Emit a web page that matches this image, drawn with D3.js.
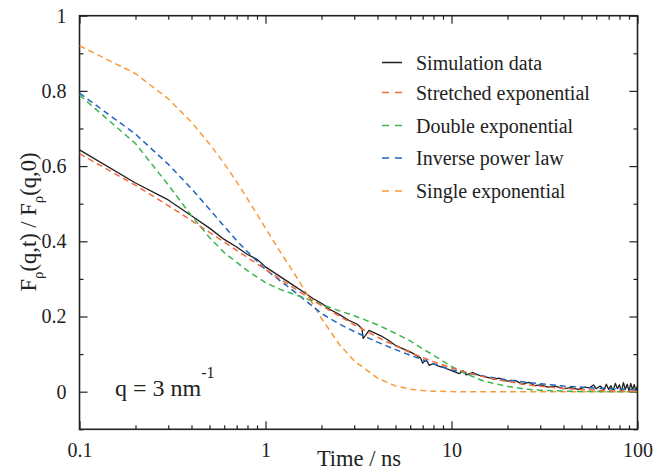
<!DOCTYPE html>
<html><head><meta charset="utf-8">
<script src="https://cdn.jsdelivr.net/npm/d3@7"></script>
<style>
body{margin:0;background:#fff;}
svg{display:block;}
svg text{font-family:"Liberation Serif","Times New Roman",Times,"Nimbus Roman","Nimbus Roman No9 L","FreeSerif","Noto Serif","DejaVu Serif",serif;fill:#222;}
</style></head>
<body>
<svg id="c" width="654" height="471"></svg>
<script>
// ---- data ----
const tFit = [0.1,0.2,0.3,0.4,0.5,0.6,0.7,0.8,1,1.2,1.5,2,2.5,3,4,5,6,7,8,10,12,15,20,25,30,40,50,70,100];
const stretched = [0.633,0.549,0.495,0.455,0.424,0.398,0.376,0.357,0.325,0.299,0.268,0.229,0.201,0.178,0.145,0.122,0.104,0.091,0.080,0.063,0.052,0.039,0.027,0.019,0.0145,0.0088,0.0057,0.0028,0.0011];
const doubleExp = [0.789,0.66,0.55,0.468,0.41,0.37,0.344,0.322,0.29,0.272,0.255,0.232,0.215,0.202,0.178,0.155,0.135,0.114,0.097,0.067,0.047,0.028,0.014,0.007,0.004,0.0015,0.0005,0,0];
const powerLaw = [0.794,0.685,0.605,0.54,0.485,0.44,0.402,0.372,0.325,0.295,0.258,0.208,0.18,0.16,0.132,0.112,0.097,0.085,0.074,0.058,0.050,0.041,0.031,0.025,0.021,0.015,0.012,0.008,0.005];
const singleExp = [0.92,0.846,0.779,0.717,0.659,0.607,0.558,0.513,0.435,0.372,0.298,0.195,0.125,0.082,0.036,0.0155,0.0067,0.0029,0.0013,0.0002,0,0,0,0,0,0,0,0,0];

const tSim = [0.1,0.2,0.3,0.4,0.5,0.6,0.7,0.8,0.9,1.0,1.2,1.4,1.6,1.8,2.0,2.2,2.5,2.8,3.1,3.3,3.35,3.45,3.6,3.8,4.2,4.6,5.0,5.5,6.0,6.5,6.8,7.0,7.3,7.6,8.0,8.5,9.0,10,11,11.5,12,13,14,15,16,17,18,20,22,24,26,28,30,33,36,40,44,48,52,55,58,60,63,66,68,70,72,74,76,78,80,82,84,86,88,90,92,94,96,98,100];
const simulation = [0.643,0.555,0.51,0.468,0.435,0.405,0.385,0.365,0.352,0.332,0.306,0.284,0.265,0.248,0.235,0.22,0.205,0.19,0.18,0.168,0.142,0.15,0.163,0.158,0.148,0.136,0.123,0.114,0.106,0.096,0.09,0.076,0.085,0.07,0.075,0.068,0.065,0.056,0.048,0.056,0.045,0.051,0.044,0.040,0.037,0.033,0.036,0.028,0.030,0.020,0.025,0.016,0.018,0.012,0.015,0.008,0.011,0.006,0.012,0.010,0.018,0.008,0.015,0.005,0.020,0.006,0.016,0.003,0.022,0.008,0.018,0.000,0.024,0.006,0.020,0.002,0.022,0.005,0.019,0.003,0.015];

const seriesNames = ["Simulation data","Stretched exponential","Double exponential","Inverse power law","Single exponential"];
const seriesColors = ["#1e1e1e","#f26a3c","#3db552","#1f64c0","#f99a3a"];

const xTicksMajor = [0.1,1,10,100];
const xTickLabels = ["0.1","1","10","100"];
const yTicksMajor = [0,0.2,0.4,0.6,0.8,1];
const yTickLabels = ["0","0.2","0.4","0.6","0.8","1"];

// ---- layout ----
const L=79.5, R=637.5, T=15.7, B=429.3;
const svg = d3.select("#c");
const x = d3.scaleLog().domain([0.1,100]).range([L,R]);
const y = d3.scaleLinear().domain([-0.1,1]).range([B,T]);

const xMinor = [];
[0.1,1,10].forEach(d=>{for(let k=2;k<=9;k++) xMinor.push(d*k);});
const yMinor = [-0.1,0.1,0.3,0.5,0.7,0.9];

svg.append("clipPath").attr("id","clip").append("rect")
  .attr("x",L).attr("y",T).attr("width",R-L).attr("height",B-T);

function styleAxis(g){
  g.attr("font-family",null);
  g.select(".domain").remove();
  g.selectAll("line").attr("stroke","#222").attr("stroke-width",1.2);
}
svg.append("g").attr("transform",`translate(0,${B})`)
  .call(d3.axisBottom(x).tickValues(xTicksMajor).tickSize(-8).tickPadding(14)
    .tickFormat((d,i)=>xTickLabels[i]))
  .call(styleAxis)
  .call(g=>g.selectAll("text").attr("font-size",20).attr("fill","#222"));
svg.append("g").attr("transform",`translate(0,${B})`)
  .call(d3.axisBottom(x).tickValues(xMinor).tickSize(-4).tickFormat(""))
  .call(styleAxis);
svg.append("g").attr("transform",`translate(0,${T})`)
  .call(d3.axisTop(x).tickValues(xTicksMajor).tickSize(-8).tickFormat(""))
  .call(styleAxis);
svg.append("g").attr("transform",`translate(0,${T})`)
  .call(d3.axisTop(x).tickValues(xMinor).tickSize(-4).tickFormat(""))
  .call(styleAxis);
svg.append("g").attr("transform",`translate(${L},0)`)
  .call(d3.axisLeft(y).tickValues(yTicksMajor).tickSize(-8).tickPadding(13)
    .tickFormat((d,i)=>yTickLabels[i]))
  .call(styleAxis)
  .call(g=>g.selectAll("text").attr("font-size",20).attr("fill","#222"));
svg.append("g").attr("transform",`translate(${L},0)`)
  .call(d3.axisLeft(y).tickValues(yMinor).tickSize(-4).tickFormat(""))
  .call(styleAxis);
svg.append("g").attr("transform",`translate(${R},0)`)
  .call(d3.axisRight(y).tickValues(yTicksMajor).tickSize(-8).tickFormat(""))
  .call(styleAxis);
svg.append("g").attr("transform",`translate(${R},0)`)
  .call(d3.axisRight(y).tickValues(yMinor).tickSize(-4).tickFormat(""))
  .call(styleAxis);

svg.append("rect").attr("x",L).attr("y",T).attr("width",R-L).attr("height",B-T)
  .attr("fill","none").attr("stroke","#222").attr("stroke-width",1.6);

const line = d3.line().x(d=>x(d[0])).y(d=>y(d[1]));
const plot = svg.append("g").attr("clip-path","url(#clip)");
const fits = [stretched,doubleExp,powerLaw,singleExp];
const simPts = tSim.map((t,i)=>[t,simulation[i]]);
plot.append("path").datum(simPts).attr("d",line).attr("fill","none")
  .attr("stroke",seriesColors[0]).attr("stroke-width",1.3).attr("stroke-linejoin","round");
[3,2,1,0].forEach(k=>{
  const pts = tFit.map((t,i)=>[t,fits[k][i]]);
  plot.append("path").datum(pts).attr("d",line).attr("fill","none")
    .attr("stroke",seriesColors[k+1]).attr("stroke-width",1.5)
    .attr("stroke-dasharray","6,4");
});

const legY = [62.5,92.5,125.5,158,191];
const leg = svg.append("g");
seriesNames.forEach((n,i)=>{
  leg.append("line").attr("x1",382).attr("x2",402).attr("y1",legY[i]).attr("y2",legY[i])
    .attr("stroke",seriesColors[i]).attr("stroke-width",1.5)
    .attr("stroke-dasharray", i===0 ? null : "7,6");
  leg.append("text").attr("x",416).attr("y",legY[i]+7).attr("font-size",20).text(n);
});

const ann = svg.append("text").attr("x",115).attr("y",396).attr("font-size",24);
ann.append("tspan").text("q = 3 nm");
ann.append("tspan").attr("font-size",16).attr("dy",-18).text("-1");

svg.append("text").attr("x",359).attr("y",466).attr("text-anchor","middle")
  .attr("font-size",22.5).text("Time / ns");

const yl = svg.append("text").attr("transform","translate(36,222) rotate(-90)")
  .attr("text-anchor","middle").attr("font-size",22.5);
yl.append("tspan").text("F");
yl.append("tspan").attr("font-size",15).attr("dy",7).text("ρ");
yl.append("tspan").attr("dy",-7).text("(q,t) / F");
yl.append("tspan").attr("font-size",15).attr("dy",7).text("ρ");
yl.append("tspan").attr("dy",-7).text("(q,0)");
</script>
</body></html>
